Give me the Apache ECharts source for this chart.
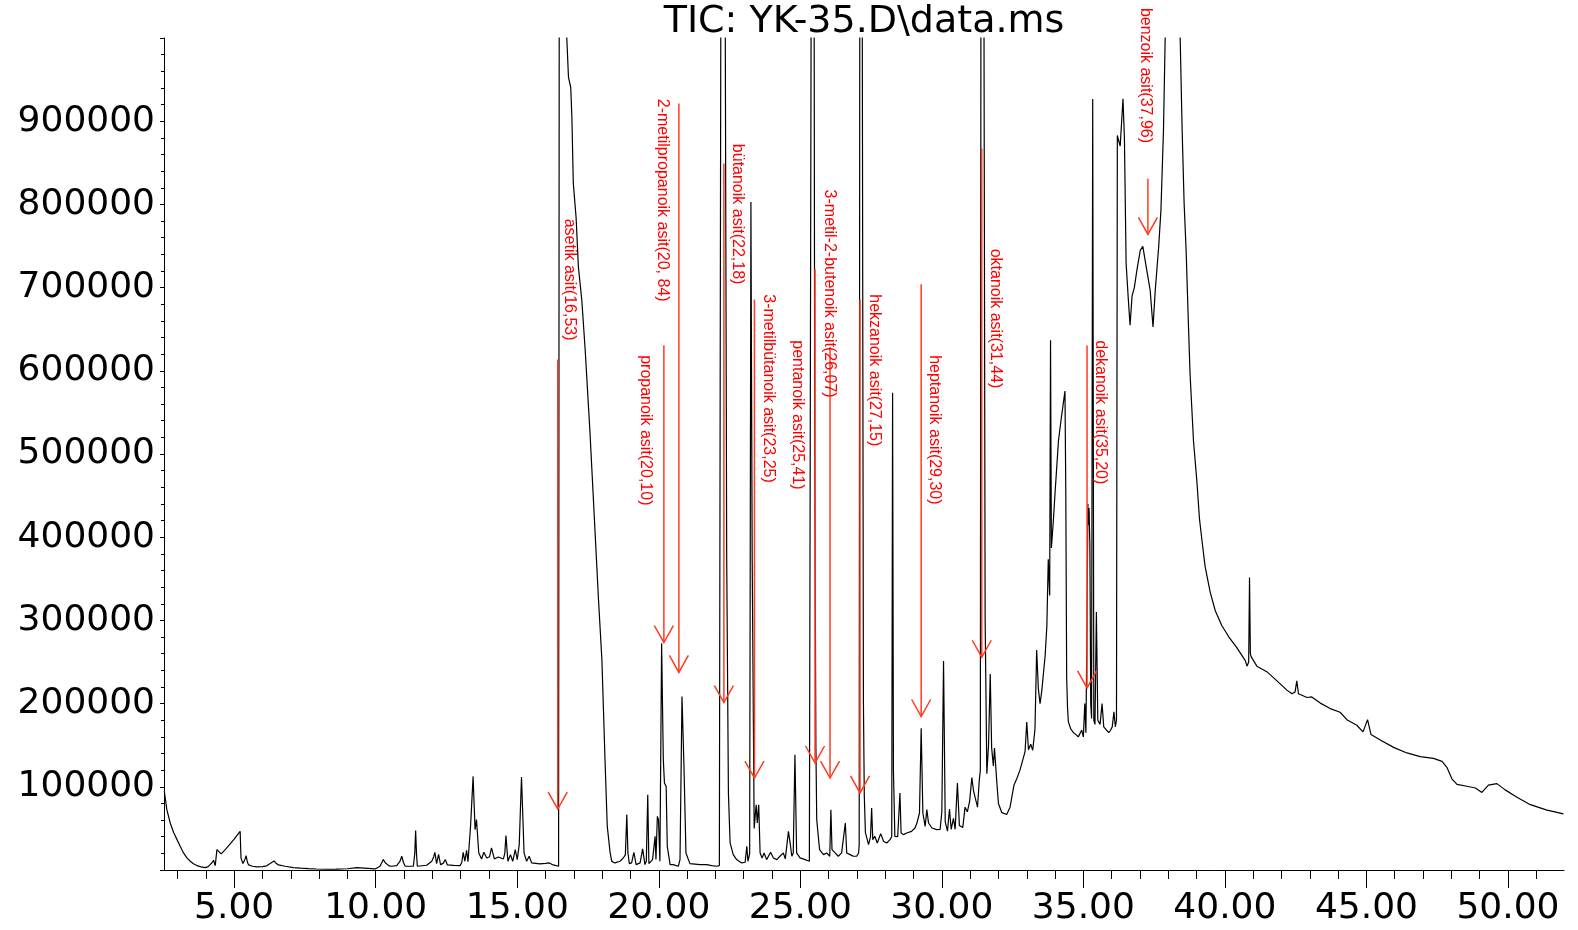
<!DOCTYPE html>
<html>
<head>
<meta charset="utf-8">
<title>TIC: YK-35.D\data.ms</title>
<script src="https://cdn.jsdelivr.net/npm/echarts@6.0.0/dist/echarts.min.js"></script>
<style>
html, body { margin: 0; padding: 0; background: #fff; }
#tic { width: 1578px; height: 930px; }
</style>
</head>
<body>
<div id="tic"></div>
<script>
// retention time (min) / abundance
var rtMin = [
  2.53, 2.62, 2.74, 2.86, 2.98, 3.10, 3.21, 3.33, 3.45, 3.56, 3.68, 3.83, 3.98, 4.08, 4.15, 4.22, 4.27, 4.33, 4.39, 4.45,
  4.54, 4.70, 4.85, 5.00, 5.10, 5.21, 5.24, 5.31, 5.37, 5.42, 5.47, 5.51, 5.65, 5.80, 6.00, 6.15, 6.27, 6.34, 6.41, 6.48,
  6.56, 6.80, 7.09, 7.35, 7.62, 7.90, 8.27, 8.60, 9.00, 9.33, 9.40, 9.98, 10.15, 10.27, 10.33, 10.39, 10.47, 10.56, 10.74, 10.85,
  10.92, 10.98, 11.04, 11.33, 11.38, 11.41, 11.44, 11.47, 11.80, 11.98, 12.05, 12.09, 12.15, 12.22, 12.29, 12.38, 12.46, 12.53, 12.75, 12.98,
  13.04, 13.09, 13.15, 13.21, 13.26, 13.29, 13.35, 13.44, 13.51, 13.56, 13.64, 13.74, 13.82, 13.92, 14.02, 14.09, 14.19, 14.33, 14.51, 14.56,
  14.60, 14.67, 14.76, 14.84, 14.93, 15.00, 15.07, 15.15, 15.24, 15.33, 15.42, 15.51, 15.80, 16.00, 16.13, 16.27, 16.46, 16.48, 16.50, 16.75,
  16.81, 16.89, 16.93, 16.98, 17.08, 17.16, 17.28, 17.40, 17.57, 17.75, 17.87, 17.99, 18.10, 18.18, 18.28, 18.34, 18.45, 18.63, 18.75, 18.82,
  18.87, 18.91, 18.96, 19.04, 19.12, 19.20, 19.34, 19.43, 19.51, 19.56, 19.61, 19.65, 19.78, 19.87, 19.90, 19.95, 19.99, 20.04, 20.10, 20.16,
  20.20, 20.26, 20.30, 20.40, 20.51, 20.57, 20.69, 20.75, 20.82, 20.89, 20.96, 21.10, 21.46, 21.69, 21.87, 22.05, 22.14, 22.17, 22.19, 22.27,
  22.35, 22.40, 22.46, 22.52, 22.63, 22.75, 22.93, 23.05, 23.11, 23.15, 23.19, 23.21, 23.255, 23.30, 23.37, 23.44, 23.48, 23.53, 23.58, 23.65,
  23.72, 23.81, 23.95, 24.05, 24.17, 24.28, 24.40, 24.47, 24.58, 24.64, 24.70, 24.75, 24.81, 24.87, 24.99, 25.17, 25.32, 25.36, 25.38, 25.43,
  25.49, 25.51, 25.55, 25.58, 25.68, 25.82, 25.93, 26.04, 26.08, 26.12, 26.15, 26.23, 26.34, 26.46, 26.59, 26.64, 26.76, 26.87, 26.99, 27.06,
  27.08, 27.10, 27.145, 27.19, 27.23, 27.26, 27.30, 27.41, 27.48, 27.52, 27.56, 27.63, 27.72, 27.84, 27.94, 28.05, 28.17, 28.23, 28.26, 28.29,
  28.34, 28.44, 28.52, 28.56, 28.64, 28.76, 28.93, 29.05, 29.12, 29.21, 29.27, 29.33, 29.41, 29.47, 29.53, 29.65, 29.82, 29.94, 30.00, 30.06,
  30.12, 30.20, 30.27, 30.33, 30.41, 30.47, 30.55, 30.62, 30.74, 30.82, 30.90, 30.98, 31.06, 31.12, 31.18, 31.26, 31.32, 31.36, 31.38, 31.44,
  31.49, 31.53, 31.59, 31.65, 31.71, 31.76, 31.82, 31.86, 31.94, 32.00, 32.12, 32.29, 32.41, 32.55, 32.65, 32.76, 32.94, 33.00, 33.06, 33.14,
  33.21, 33.29, 33.35, 33.41, 33.47, 33.53, 33.65, 33.71, 33.76, 33.81, 33.84, 33.87, 33.94, 34.00, 34.06, 34.12, 34.20, 34.27, 34.35, 34.38,
  34.41, 34.44, 34.47, 34.55, 34.65, 34.73, 34.82, 34.94, 35.00, 35.05, 35.09, 35.13, 35.16, 35.18, 35.20, 35.23, 35.26, 35.29, 35.33, 35.37,
  35.41, 35.46, 35.51, 35.59, 35.66, 35.72, 35.82, 35.90, 35.96, 36.02, 36.08, 36.13, 36.17, 36.20, 36.26, 36.30, 36.40, 36.45, 36.51, 36.59,
  36.65, 36.72, 36.80, 36.89, 37.01, 37.10, 37.22, 37.36, 37.46, 37.54, 37.66, 37.74, 37.83, 37.89, 38.15, 38.42, 38.49, 38.56, 38.63, 38.71,
  38.77, 38.89, 39.01, 39.10, 39.19, 39.30, 39.48, 39.66, 39.89, 40.13, 40.42, 40.72, 40.78, 40.84, 40.87, 40.90, 40.93, 41.13, 41.48, 41.84,
  42.19, 42.37, 42.48, 42.54, 42.60, 42.90, 43.07, 43.37, 43.72, 44.07, 44.31, 44.66, 44.88, 45.04, 45.16, 45.49, 45.96, 46.43, 46.90, 47.37,
  47.67, 47.85, 48.02, 48.20, 48.55, 48.85, 49.08, 49.31, 49.61, 49.90, 50.32, 50.79, 51.38, 51.96
];
var abundance = [
  95000, 72500, 56500, 45000, 36500, 28000, 20500, 14500, 10500, 7500, 5300, 3800, 2900, 4000, 6500, 9000, 11700, 5300, 24500, 22500,
  19300, 25000, 31000, 37000, 41500, 46500, 14500, 7700, 12000, 17300, 9000, 6100, 4500, 3700, 4000, 5000, 7700, 9000, 10900, 8000,
  6100, 4500, 2900, 2200, 1700, 1200, 900, 1100, 1500, 2900, 1800, 1300, 4500, 12500, 9000, 7700, 5000, 4500, 5300, 10000,
  16500, 9000, 4500, 4500, 20000, 47300, 20000, 4500, 5700, 10500, 16000, 21300, 7700, 18900, 6500, 8000, 12500, 6100, 5500, 5300,
  9000, 21300, 10500, 23700, 10000, 7700, 52500, 112500, 48500, 60500, 20500, 13300, 21300, 14500, 16000, 26500, 13300, 15700, 13300, 20000,
  41300, 10500, 18500, 10500, 24500, 12500, 30500, 111700, 20500, 10500, 16500, 8500, 7300, 8000, 8500, 6100, 4500, 4500, 1800000, 1000000,
  952800, 940500, 904500, 825600, 783600, 724800, 685100, 625100, 525500, 405500, 325100, 253000, 132900, 52500, 20900, 10400, 8500, 10500, 14500, 18500,
  66600, 20500, 7700, 8500, 21300, 6500, 8500, 25300, 6500, 10500, 90500, 7700, 12500, 40500, 12500, 64500, 60500, 10500, 272500, 132500,
  104500, 100500, 28500, 6500, 6500, 8500, 4500, 12500, 208500, 124500, 20500, 7700, 6500, 6500, 5300, 4500, 5300, 6000, 1000000, 2000000,
  1000000, 372700, 92600, 32500, 18500, 12500, 8500, 9300, 28500, 10500, 16500, 20000, 803000, 372000, 50000, 78400, 56500, 78400, 20500, 14500,
  20500, 12500, 21300, 14500, 12500, 16500, 20500, 13300, 46500, 32500, 16500, 20500, 138500, 20500, 14500, 12500, 10500, 11000, 1000000, 2000000,
  1000000, 500000, 150000, 60400, 24500, 18500, 20500, 16500, 72500, 24500, 24500, 20500, 16500, 20500, 56500, 20500, 18500, 16500, 16500, 20500,
  30000, 1000000, 2000000, 1000000, 200000, 90000, 45000, 30500, 40000, 74500, 36500, 40500, 32500, 43700, 34500, 32500, 36500, 40000, 573700, 120000,
  40500, 40000, 92500, 44500, 42500, 44500, 46500, 50500, 56500, 68500, 170500, 68500, 52500, 72500, 56500, 50500, 48500, 48900, 70000, 251200,
  57800, 46700, 73300, 48900, 62200, 48900, 104500, 53400, 51100, 75500, 70000, 82200, 111100, 95000, 86600, 75500, 106700, 120000, 1000000, 2000000,
  1000000, 300000, 115600, 150000, 235600, 146700, 125000, 146700, 106700, 80000, 68900, 66700, 75500, 102200, 110000, 120000, 142300, 177800, 144500, 151100,
  144000, 168900, 264500, 217800, 200000, 215000, 257800, 293400, 373400, 330000, 636700, 387000, 420000, 453500, 484600, 515700, 537900, 555700, 575700, 450000,
  231100, 195600, 178000, 170000, 165000, 163000, 160000, 168000, 160000, 200000, 165000, 300000, 440000, 415000, 435000, 390000, 200000, 182000, 926600, 180000,
  175000, 310000, 180000, 175000, 200000, 172000, 168000, 165000, 168000, 172000, 190000, 172000, 180000, 882800, 884000, 870000, 926900, 880000, 729200, 684800,
  654800, 690000, 700000, 720800, 744800, 749600, 724800, 696800, 652700, 697000, 748800, 792800, 888900, 1000000, 2500000, 1000000, 888800, 800800, 744800, 656800,
  595900, 515900, 467100, 422700, 396000, 364900, 333900, 311600, 293900, 280600, 267200, 251700, 245000, 250000, 351600, 260000, 256200, 245000, 238400, 227300,
  216200, 211800, 214000, 227300, 211800, 207300, 208000, 200600, 194000, 189600, 180700, 174000, 166000, 180700, 162900, 156300, 147400, 140700, 136300, 134100,
  130500, 122900, 109600, 103000, 100700, 98600, 93200, 102000, 103800, 96300, 87400, 78500, 71900, 67500
];

// red annotations: arrow at a retention time, label written top-to-bottom
var peakNames = ['asetik asit(16,53)', 'propanoik asit(20,10)', '2-metilpropanoik asit(20, 84)', 'bütanoik asit(22,18)',
  '3-metilbütanoik asit(23,25)', 'pentanoik asit(25,41)', '3-metil-2-butenoik asit(26,07)', 'hekzanoik asit(27,15)',
  'heptanoik asit(29,30)', 'oktanoik asit(31,44)', 'dekanoik asit(35,20)', 'benzoik asit(37,96)'];
var arrowRt   = [16.43, 20.18, 20.71, 22.30, 23.38, 25.52, 26.05, 27.11, 29.27, 31.41, 35.13, 37.28];
var arrowFrom = [613500, 630700, 921200, 849200, 685600, 722300, 628700, 685600, 704000, 867200, 630500, 830900];
var arrowTo   = [73300, 273400, 237400, 201300, 110500, 128600, 110500, 92600, 184500, 255700, 218800, 764000];
var labelRt   = [16.83, 19.52, 20.12, 22.77, 23.89, 24.88, 26.03, 27.61, 29.73, 31.88, 35.60, 37.19];
var labelTop  = [782800, 618800, 926900, 872800, 692000, 636700, 817800, 692000, 618800, 746800, 636700, 1036200];

var majorTicks = [5, 10, 15, 20, 25, 30, 35, 40, 45, 50];
var minorTicks = [];
for (var m = 3; m <= 51; m++) {
  if (m % 5 != 0) minorTicks.push(m);
}

var ticData = rtMin.map(function (t, i) { return [t, abundance[i]]; });
var noteData = arrowRt.map(function (t, i) { return [t, arrowFrom[i], arrowTo[i], labelRt[i], labelTop[i]]; });

var labelFont = { color: '#000', fontFamily: 'DejaVu Sans', fontSize: 36 };

function renderNote(params, api) {
  var top = api.coord([api.value(0), api.value(1)]);
  var tip = api.coord([api.value(0), api.value(2)]);
  var txt = api.coord([api.value(3), api.value(4)]);
  var red = '#ff3b1f';
  return {
    type: 'group',
    children: [
      { type: 'line', shape: { x1: top[0], y1: top[1], x2: tip[0], y2: tip[1] },
        style: { stroke: red, lineWidth: 1.5 } },
      { type: 'polyline', shape: { points: [[tip[0] - 9.5, tip[1] - 17], [tip[0], tip[1]], [tip[0] + 9.5, tip[1] - 17]] },
        style: { stroke: red, lineWidth: 1.5, fill: null } },
      { type: 'text', x: txt[0], y: txt[1], rotation: -Math.PI / 2,
        style: { text: peakNames[params.dataIndex], fill: '#ff0000', font: '16px "Liberation Sans", Arial, sans-serif',
          align: 'left', verticalAlign: 'middle' } }
    ]
  };
}

var chart = echarts.init(document.getElementById('tic'));
chart.setOption({
  animation: false,
  backgroundColor: '#fff',
  title: {
    text: 'TIC: YK-35.D\\data.ms',
    left: 864, top: 3, padding: 0, textAlign: 'center',
    textStyle: { color: '#000', fontFamily: 'DejaVu Sans', fontSize: 38, fontWeight: 'normal' }
  },
  grid: { left: 164, right: 14, top: 38, bottom: 60 },
  xAxis: [
    {
      type: 'value', min: 2.52, max: 51.98,
      axisLine: { onZero: false, lineStyle: { color: '#000', width: 1 } },
      axisTick: { customValues: majorTicks, length: 18, lineStyle: { color: '#000' } },
      axisLabel: Object.assign({ customValues: majorTicks, margin: 21, formatter: function (v) { return v.toFixed(2); } }, labelFont),
      splitLine: { show: false }
    },
    {
      type: 'value', min: 2.52, max: 51.98, position: 'bottom',
      axisLine: { show: false },
      axisTick: { customValues: minorTicks, length: 9, lineStyle: { color: '#000' } },
      axisLabel: { show: false },
      splitLine: { show: false }
    }
  ],
  yAxis: {
    type: 'value', min: 0, max: 1000000, interval: 100000,
    axisLine: { show: true, lineStyle: { color: '#000', width: 1 } },
    axisTick: { show: true, length: 4, lineStyle: { color: '#000' } },
    minorTick: { show: true, splitNumber: 5, length: 3, lineStyle: { color: '#000' } },
    splitLine: { show: false },
    axisLabel: Object.assign({ margin: 9, formatter: function (v) { return (v == 0 || v >= 1000000) ? '' : String(v); } }, labelFont)
  },
  series: [
    {
      type: 'line', data: ticData, symbol: 'none', showSymbol: false, clip: true, silent: true, z: 2,
      lineStyle: { color: '#000', width: 1.2 }
    },
    {
      type: 'custom', data: noteData, renderItem: renderNote, clip: false, silent: true, z: 3,
      encode: { x: [0, 3], y: [1, 2, 4] }
    }
  ]
});
</script>
</body>
</html>
